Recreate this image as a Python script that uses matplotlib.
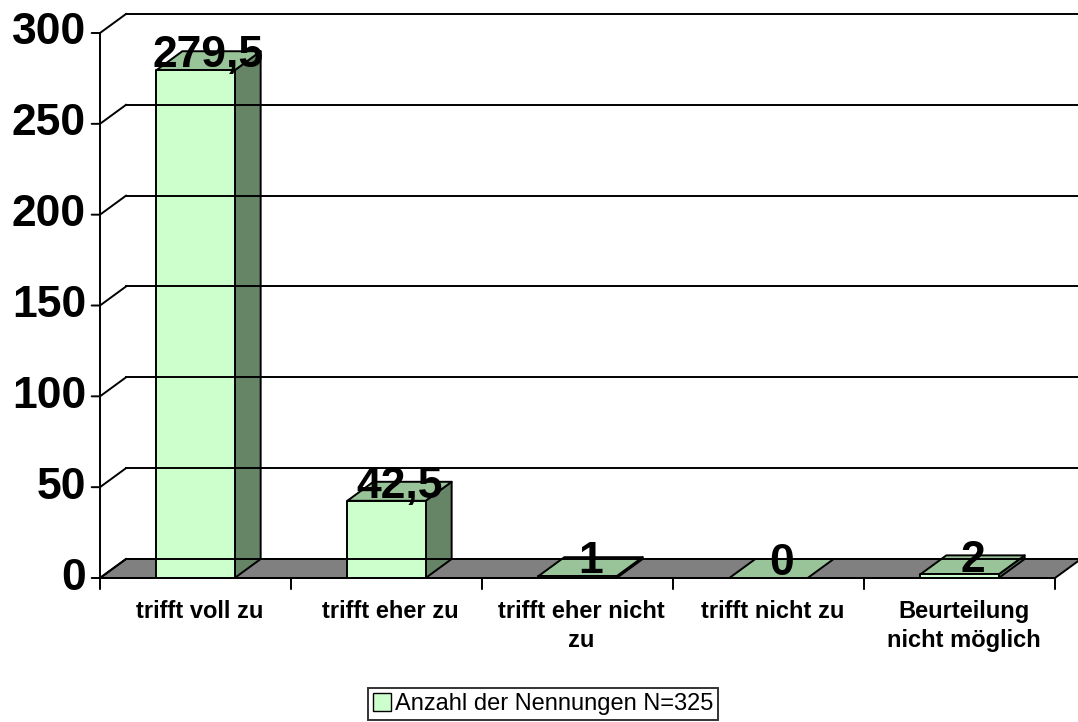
import matplotlib.pyplot as plt
from matplotlib.patches import Polygon, Patch

plt.rcParams['font.family'] = ['Liberation Sans', 'DejaVu Sans']

categories = ["trifft voll zu", "trifft eher zu", "trifft eher nicht\nzu",
              "trifft nicht zu", "Beurteilung\nnicht möglich"]
values = [279.5, 42.5, 1, 0, 2]
value_labels = ["279,5", "42,5", "1", "0", "2"]
y_ticks = [0, 50, 100, 150, 200, 250, 300]
series_name = "Anzahl der Nennungen N=325"

FRONT = "#ccffcc"
TOP = "#99c499"
SIDE = "#668466"
FLOOR = "#808080"
BAR_W = 0.41
DEPTH_PX = (26, 19)   # depth offset of the 3d box in pixels

fig = plt.figure(figsize=(10.78, 7.22), dpi=100)
ax = fig.add_axes([100 / 1078, 144 / 722, 955 / 1078, 545 / 722])
ax.set_xlim(0, len(categories))
ax.set_ylim(0, 300)
ax.axis("off")

# depth offset expressed in data units
fig.canvas.draw()
p0 = ax.transData.transform((0, 0))
dx, dy = ax.transData.inverted().transform((p0[0] + DEPTH_PX[0], p0[1] + DEPTH_PX[1]))
n = len(categories)
lw = 1.4

# back wall gridlines and left wall diagonals
for v in y_ticks:
    ax.plot([dx, n + dx], [v + dy, v + dy], color="black", lw=lw, clip_on=False)
    ax.plot([0, dx], [v, v + dy], color="black", lw=lw, clip_on=False)

# floor
ax.add_patch(Polygon([(0, 0), (n, 0), (n + dx, dy), (dx, dy)], closed=True,
                     facecolor=FLOOR, edgecolor="black", lw=lw, clip_on=False))

# bars as boxes
for i, v in enumerate(values):
    x0 = i + 0.5 - BAR_W / 2
    x1 = x0 + BAR_W
    side = [(x1, 0), (x1 + dx, dy), (x1 + dx, v + dy), (x1, v)]
    top = [(x0, v), (x1, v), (x1 + dx, v + dy), (x0 + dx, v + dy)]
    front = [(x0, 0), (x1, 0), (x1, v), (x0, v)]
    if v > 0:
        ax.add_patch(Polygon(side, closed=True, facecolor=SIDE, edgecolor="black",
                             lw=lw, joinstyle="round", clip_on=False))
    ax.add_patch(Polygon(top, closed=True, facecolor=TOP, edgecolor="black",
                         lw=lw, joinstyle="round", clip_on=False))
    if v > 0:
        ax.add_patch(Polygon(front, closed=True, facecolor=FRONT, edgecolor="black",
                             lw=lw, joinstyle="round", clip_on=False))
    ax.annotate(value_labels[i], (i + 0.5 + dx / 2, v), xytext=(0, 2),
                textcoords="offset points", ha="center", va="baseline",
                fontsize=32, fontweight="bold", clip_on=False)

# axes lines and ticks
ax.plot([0, 0], [0, 300], color="black", lw=lw, clip_on=False)
ax.plot([0, n], [0, 0], color="black", lw=lw, clip_on=False)
trans = ax.get_yaxis_transform()
for v in y_ticks:
    ax.annotate("", (0, v), xytext=(-6, 0), textcoords="offset points",
                arrowprops=dict(arrowstyle="-", lw=lw, color="black",
                                shrinkA=0, shrinkB=0))
    ax.annotate(str(v), (0, v), xytext=(-10, 0), textcoords="offset points",
                ha="right", va="center", fontsize=32, fontweight="bold")
for k in range(n + 1):
    ax.annotate("", (k, 0), xytext=(0, -8), textcoords="offset points",
                arrowprops=dict(arrowstyle="-", lw=lw, color="black",
                                shrinkA=0, shrinkB=0))
for i, label in enumerate(categories):
    ax.annotate(label, (i + 0.5, 0), xytext=(3, -16), textcoords="offset points",
                ha="center", va="top", fontsize=17, fontweight="bold",
                linespacing=1.3)

leg = fig.legend(handles=[Patch(facecolor=FRONT, edgecolor="black", lw=1)],
                 labels=[series_name], loc="lower center",
                 bbox_to_anchor=(0.504, 0.003), fontsize=17, frameon=True,
                 fancybox=False, handlelength=0.75, handleheight=0.75,
                 handletextpad=0.2, borderpad=0.2, borderaxespad=0)
leg.get_frame().set_edgecolor("black")
leg.get_frame().set_linewidth(1.4)

fig.savefig("out.png", dpi=100)
